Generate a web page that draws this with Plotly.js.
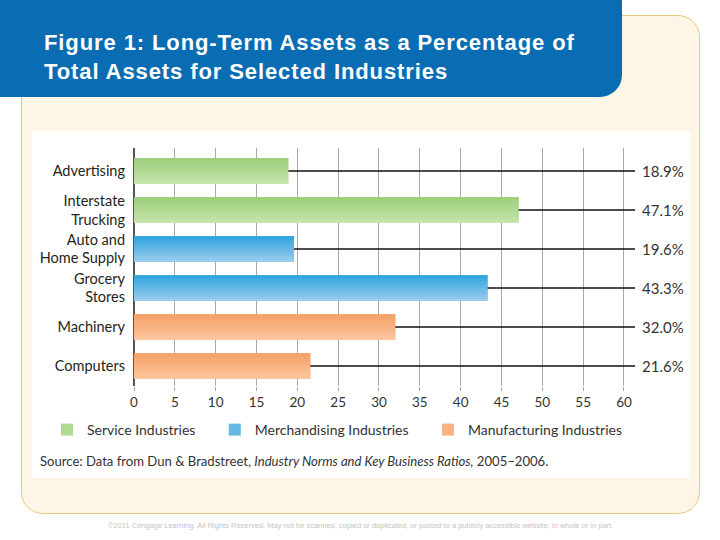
<!DOCTYPE html>
<html>
<head>
<meta charset="utf-8">
<script src="https://cdn.plot.ly/plotly-3.0.1.min.js"></script>
<style>
  body { margin: 0; background: #ffffff; }
  #stage { position: relative; width: 720px; height: 540px; overflow: hidden; }
  #frame { position: absolute; left: 21px; top: 15px; width: 677px; height: 497px;
           background: #fdf6e7; border: 1.5px solid #e8c87c; border-radius: 22px; }
  #header { position: absolute; left: 0; top: 0; width: 622px; height: 97px;
            background: #0a6db3; border-bottom-right-radius: 22px; }
  #panel { position: absolute; left: 32px; top: 131px; width: 658px; height: 347px; background: #ffffff; }
  #chart { position: absolute; left: 0; top: 0; width: 720px; height: 540px; }
  /* the original title face is set wider than Arial */
  #chart .gtitle { letter-spacing: 0.9px; }
</style>
</head>
<body>
<div id="stage">
  <div id="frame"></div>
  <div id="header"></div>
  <div id="panel"></div>
  <div id="chart"></div>
</div>
<script>
// data
var industries = ["Advertising", "Interstate<br>Trucking", "Auto and<br>Home Supply",
                  "Grocery<br>Stores", "Machinery", "Computers"];
var pct_long_term = [18.9, 47.1, 19.6, 43.3, 32.0, 21.6];
var sector_of = [0, 0, 1, 1, 2, 2];
var sector_names = ["Service Industries", "Merchandising Industries", "Manufacturing Industries"];
var x_ticks = [0, 5, 10, 15, 20, 25, 30, 35, 40, 45, 50, 55, 60];

// style
var sector_top = [[152, 205, 116], [38, 160, 220], [245, 156, 98]];
var sector_bottom = [[200, 229, 176], [163, 208, 239], [252, 200, 162]];
var BAR_W = 0.66;
var STRIPS = 12;
var LEADER_END = 61.35;
var LABEL_FONT = "Lato, 'Open Sans', sans-serif";

function mix(a, b, t) {
    var c = a.map(function(v, i) { return Math.round(v + (b[i] - v) * t); });
    return "rgb(" + c.join(",") + ")";
}

var data = [];

// one solid trace per sector, used for the legend
for (var s = 0; s < sector_names.length; s++) {
    var xs = [], ys = [];
    for (var i = 0; i < industries.length; i++) {
        if (sector_of[i] === s) { xs.push(pct_long_term[i]); ys.push(industries[i]); }
    }
    data.push({
        type: "bar",
        orientation: "h",
        x: xs,
        y: ys,
        name: sector_names[s] + "&nbsp;&nbsp;&nbsp;&nbsp;",
        width: BAR_W,
        offset: -BAR_W / 2,
        marker: { color: mix(sector_top[s], sector_bottom[s], 0.5), line: { width: 0 } },
        hoverinfo: "skip"
    });
}

// thin overlaid strips give the top-to-bottom shading of each bar
for (var k = 0; k < STRIPS; k++) {
    var t = (k + 0.5) / STRIPS;
    data.push({
        type: "bar",
        orientation: "h",
        x: pct_long_term,
        y: industries,
        width: BAR_W / STRIPS,
        offset: -BAR_W / 2 + k * BAR_W / STRIPS,
        marker: {
            color: sector_of.map(function(s) { return mix(sector_top[s], sector_bottom[s], t); }),
            line: { width: 0 }
        },
        showlegend: false,
        hoverinfo: "skip"
    });
}

// leader lines from bar end to the value labels
var lx = [], ly = [];
for (var i = 0; i < industries.length; i++) {
    lx.push(pct_long_term[i], LEADER_END, null);
    ly.push(industries[i], industries[i], null);
}
data.push({
    type: "scatter",
    mode: "lines",
    x: lx,
    y: ly,
    line: { color: "#111111", width: 1.5 },
    showlegend: false,
    hoverinfo: "skip",
    cliponaxis: false
});

var annotations = pct_long_term.map(function(v, i) {
    return {
        x: LEADER_END, y: industries[i], xref: "x", yref: "y",
        text: v.toFixed(1) + "%",
        showarrow: false, xanchor: "left", xshift: 5,
        font: { family: LABEL_FONT, size: 15, color: "#333333" }
    };
});

annotations.push({
    x: 38 / 720, y: 1 - 461 / 540, xref: "paper", yref: "paper",
    xanchor: "left", yanchor: "middle", showarrow: false,
    text: "Source: Data from Dun &amp; Bradstreet, <i>Industry Norms and Key Business Ratios,</i> 2005–2006.",
    font: { family: LABEL_FONT, size: 13.1, color: "#333333" }
});

annotations.push({
    x: 0.5, y: 1 - 525 / 540, xref: "paper", yref: "paper",
    xanchor: "center", yanchor: "middle", showarrow: false,
    text: "©2011 Cengage Learning. All Rights Reserved. May not be scanned, copied or duplicated, or posted to a publicly accessible website, in whole or in part.",
    font: { family: "'Liberation Sans Narrow', 'Liberation Sans', sans-serif", size: 7.5, color: "#c4c4c4" }
});

var layout = {
    width: 720,
    height: 540,
    margin: { l: 0, r: 0, t: 0, b: 0, pad: 0 },
    paper_bgcolor: "rgba(0,0,0,0)",
    plot_bgcolor: "rgba(0,0,0,0)",
    barmode: "overlay",
    title: {
        text: "<b>Figure 1: Long-Term Assets as a Percentage of<br>Total Assets for Selected Industries</b>",
        x: 44 / 720,
        xanchor: "left",
        xref: "paper",
        y: 1 - 50 / 540,
        yanchor: "middle",
        yref: "container",
        font: { family: "'Liberation Sans', Arial, sans-serif", size: 22, color: "#ffffff" }
    },
    xaxis: {
        domain: [134 / 720, 635 / 720],
        range: [0, LEADER_END],
        tickvals: x_ticks,
        ticktext: x_ticks.map(String),
        showgrid: true,
        gridcolor: "#a8a8a8",
        gridwidth: 1,
        zeroline: true,
        zerolinecolor: "#555555",
        zerolinewidth: 1.5,
        ticks: "outside",
        ticklen: 4,
        tickcolor: "#a8a8a8",
        showline: false,
        fixedrange: true,
        tickfont: { family: LABEL_FONT, size: 13.5, color: "#333333" }
    },
    yaxis: {
        domain: [1 - 386 / 540, 1 - 148 / 540],
        type: "category",
        categoryorder: "array",
        categoryarray: industries,
        range: [5.513, -0.59],
        showgrid: false,
        zeroline: false,
        showline: false,
        ticks: "",
        ticklabelstandoff: 8,
        fixedrange: true,
        tickfont: { family: LABEL_FONT, size: 14.5, color: "#231f20" }
    },
    legend: {
        orientation: "h",
        x: 47 / 720,
        xanchor: "left",
        y: 1 - 414 / 540,
        yanchor: "top",
        bgcolor: "rgba(0,0,0,0)",
        font: { family: LABEL_FONT, size: 14, color: "#333333" },
        itemclick: false,
        itemdoubleclick: false
    },
    annotations: annotations,
    showlegend: true
};

Plotly.newPlot("chart", data, layout, { displayModeBar: false, staticPlot: true });
</script>
</body>
</html>
